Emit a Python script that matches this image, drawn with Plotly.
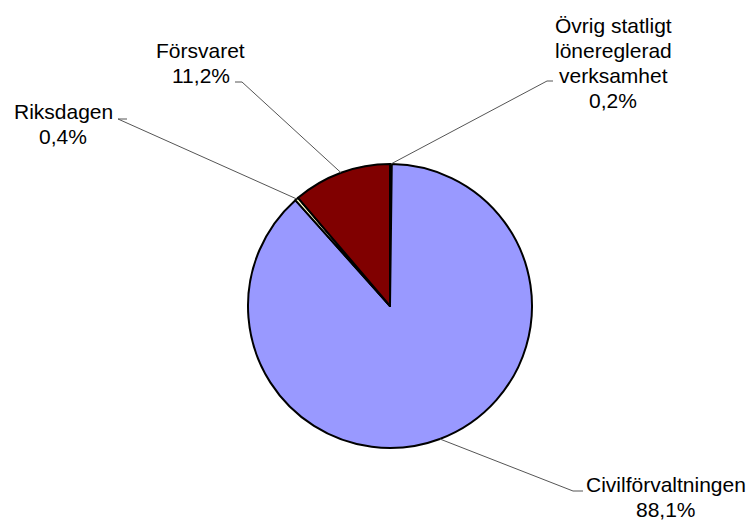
import math
import plotly.graph_objects as go

# Data (clockwise from 12 o'clock)
labels = ["Övrig statligt lönereglerad verksamhet", "Civilförvaltningen", "Riksdagen", "Försvaret"]
values = [0.2, 88.1, 0.4, 11.2]
pct_text = ["0,2%", "88,1%", "0,4%", "11,2%"]
label_lines = [["Övrig statligt", "lönereglerad", "verksamhet"], ["Civilförvaltningen"], ["Riksdagen"], ["Försvaret"]]
colors = ["#660066", "#9999FF", "#FFFFCC", "#800000"]

W, H = 752, 521
CX, CY, R = 390, 306, 142

# label placement (pixel): text centre x, first line y, elbow end point (x, y), horizontal stub end
label_pos = [
    dict(x=613, y=25, elbow=(547, 81), stub=(553, 81)),
    dict(x=666, y=484, elbow=(573, 491), stub=(583, 491)),
    dict(x=63, y=112, elbow=(118, 119), stub=(127, 119)),
    dict(x=201, y=50, elbow=(242, 82), stub=(235, 82)),
]
LINE_H = 25
FONT = "Liberation Sans, Arial, sans-serif"


def px(x):
    return x / W


def py(y):
    return 1 - y / H


fig = go.Figure(go.Pie(
    labels=labels,
    values=values,
    sort=False,
    direction="clockwise",
    rotation=0,
    textinfo="none",
    hoverinfo="label+percent",
    marker=dict(colors=colors, line=dict(color="black", width=2)),
    showlegend=False,
    domain=dict(x=[px(CX - R), px(CX + R)], y=[py(CY + R), py(CY - R)]),
))

total = sum(values)
cum = 0.0
annotations = []
shapes = []
for i, v in enumerate(values):
    mid = (cum + v / 2) / total * 2 * math.pi
    cum += v
    ex = CX + R * math.sin(mid)
    ey = CY - R * math.cos(mid)
    lp = label_pos[i]
    (bx, by), (sx, sy) = lp["elbow"], lp["stub"]
    shapes.append(dict(
        type="path", xref="paper", yref="paper",
        path=f"M {px(ex)} {py(ey)} L {px(bx)} {py(by)} L {px(sx)} {py(sy)}",
        line=dict(color="#555555", width=1),
    ))
    lines = label_lines[i] + [pct_text[i]]
    for k, t in enumerate(lines):
        annotations.append(dict(
            text=t, x=px(lp["x"]), y=py(lp["y"] + k * LINE_H),
            xref="paper", yref="paper", xanchor="center", yanchor="middle",
            showarrow=False, font=dict(family=FONT, size=21, color="black"),
        ))

fig.update_layout(
    width=W, height=H,
    margin=dict(l=0, r=0, t=0, b=0),
    paper_bgcolor="white", plot_bgcolor="white",
    annotations=annotations, shapes=shapes,
)

fig.write_html(
    "out.html",
    config={"displayModeBar": False},
    post_script="document.body.style.margin='0';document.body.style.overflow='hidden';",
)
